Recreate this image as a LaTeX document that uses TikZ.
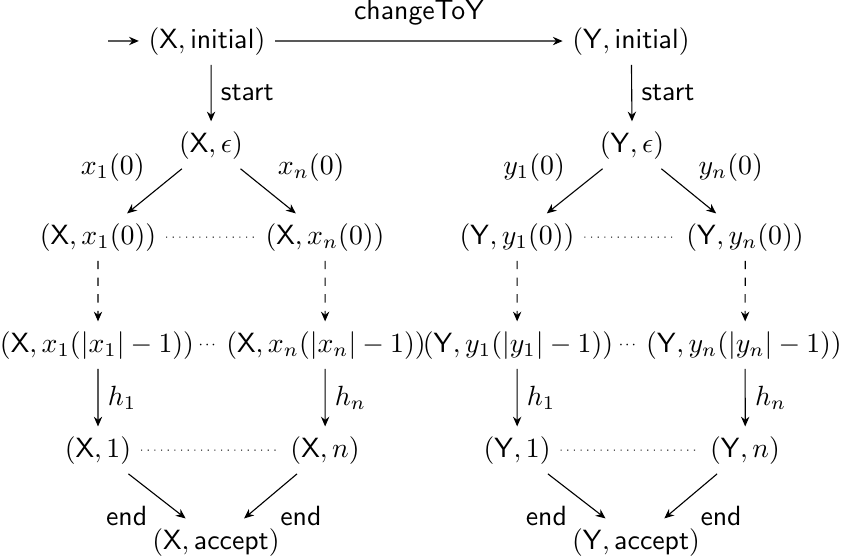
\documentclass[tikz,border=0pt]{standalone}
\usepackage{amsmath,amssymb}
\usepackage{tikz}
\usetikzlibrary{arrows.meta}

\begin{document}
\begin{tikzpicture}[scale=1.025, >={Stealth[length=3.5pt, width=3pt]}, trans/.style={->}, skipto/.style={->, dashed}, gap/.style={dotted}, lbl/.style={font=\sffamily}, fill in/.style={inner sep=1pt}]
    \useasboundingbox (0,0) rectangle (10.39,6.90);
    \coordinate (entry) at (1.333,6.392);
    \node (xinit) at (2.554,6.392) {$(\mathsf{X},\mathsf{initial})$};
    \node (yinit) at (7.787,6.392) {$(\mathsf{Y},\mathsf{initial})$};
    \node (xeps) at (2.604,5.109) {$(\mathsf{X},\epsilon)$};
    \node (yeps) at (7.799,5.109) {$(\mathsf{Y},\epsilon)$};
    \node (xa) at (1.209,3.973) {$(\mathsf{X},x_1(0))$};
    \node (xb) at (4.011,3.973) {$(\mathsf{X},x_n(0))$};
    \node (ya) at (6.380,3.973) {$(\mathsf{Y},y_1(0))$};
    \node (yb) at (9.193,3.973) {$(\mathsf{Y},y_n(0))$};
    \node (xal) at (1.197,2.641) {$(\mathsf{X},x_1(|x_1|-1))$};
    \node[fill in] (xdots) at (2.579,2.641) {$\scriptscriptstyle\cdots$};
    \node (xbl) at (4.023,2.641) {$(\mathsf{X},x_n(|x_n|-1))$};
    \node (yal) at (6.392,2.641) {$(\mathsf{Y},y_1(|y_1|-1))$};
    \node[fill in] (ydots) at (7.762,2.641) {$\scriptscriptstyle\cdots$};
    \node (ybl) at (9.181,2.641) {$(\mathsf{Y},y_n(|y_n|-1))$};
    \node (xone) at (1.209,1.345) {$(\mathsf{X},1)$};
    \node (xn) at (4.011,1.345) {$(\mathsf{X},n)$};
    \node (yone) at (6.380,1.345) {$(\mathsf{Y},1)$};
    \node (yn) at (9.193,1.345) {$(\mathsf{Y},n)$};
    \node (xacc) at (2.665,0.210) {$(\mathsf{X},\mathsf{accept})$};
    \node (yacc) at (7.848,0.210) {$(\mathsf{Y},\mathsf{accept})$};

    \draw[trans] (entry) -- (xinit);
    \draw[trans] (xinit) -- node[above=2pt, lbl] {changeToY} (yinit);
    \draw[trans] (xeps |- xinit.south) -- node[right, lbl] {start} (xeps);
    \draw[trans] (yinit) -- node[right, lbl] {start} (yeps);

    \draw[trans] (xeps) -- node[above left] {$x_1(0)$} (xa);
    \draw[trans] (xeps) -- node[above right] {$x_n(0)$} (xb);
    \draw[gap] (xa) -- (xb);
    \draw[skipto] (xa) -- (xa |- xal.north);
    \draw[skipto] (xb) -- (xb |- xbl.north);
    \draw[trans] (xa |- xal.south) -- node[right] {$h_1$} (xone);
    \draw[trans] (xb |- xbl.south) -- node[right] {$h_n$} (xn);
    \draw[gap] (xone) -- (xn);
    \draw[trans] (xone) -- node[below left, lbl] {end} (xacc);
    \draw[trans] (xn) -- node[below right, lbl] {end} (xacc);

    \draw[trans] (yeps) -- node[above left] {$y_1(0)$} (ya);
    \draw[trans] (yeps) -- node[above right] {$y_n(0)$} (yb);
    \draw[gap] (ya) -- (yb);
    \draw[skipto] (ya) -- (ya |- yal.north);
    \draw[skipto] (yb) -- (yb |- ybl.north);
    \draw[trans] (ya |- yal.south) -- node[right] {$h_1$} (yone);
    \draw[trans] (yb |- ybl.south) -- node[right] {$h_n$} (yn);
    \draw[gap] (yone) -- (yn);
    \draw[trans] (yone) -- node[below left, lbl] {end} (yacc);
    \draw[trans] (yn) -- node[below right, lbl] {end} (yacc);
\end{tikzpicture}
\end{document}
